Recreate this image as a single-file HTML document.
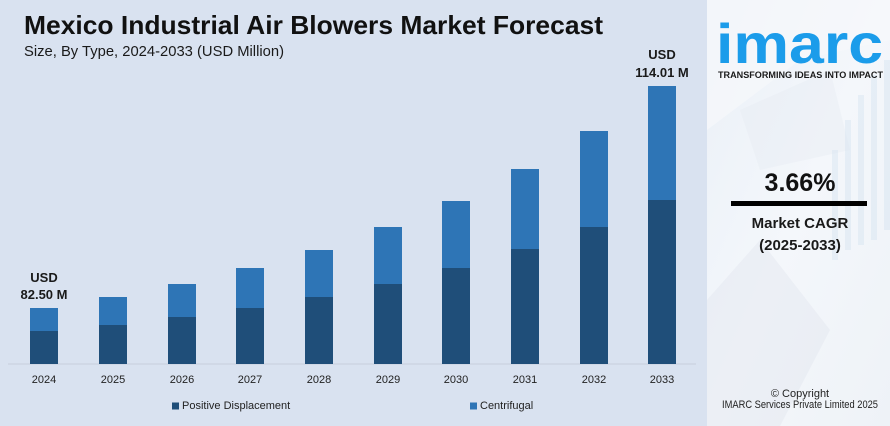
<!DOCTYPE html>
<html><head><meta charset="utf-8"><style>
html,body{margin:0;padding:0;background:#d9e2f0;}
svg{display:block;}
text{font-family:"Liberation Sans",Arial,sans-serif;}
</style></head><body>
<svg width="890" height="426" viewBox="0 0 890 426" xmlns="http://www.w3.org/2000/svg">
<defs>
<linearGradient id="pg" x1="0" y1="0" x2="1" y2="1">
<stop offset="0" stop-color="#eaf0f7"/>
<stop offset="0.5" stop-color="#f4f7fb"/>
<stop offset="1" stop-color="#eef2f7"/>
</linearGradient>
</defs>
<rect x="0" y="0" width="890" height="426" fill="#d9e2f0"/>
<!-- right panel -->
<rect x="707" y="0" width="183" height="426" fill="url(#pg)"/>
<polygon points="707,130 800,60 890,40 890,0 707,0" fill="#f6f8fb" opacity="0.7"/>
<polygon points="707,300 760,240 830,330 780,426 707,426" fill="#e3e8ef" opacity="0.5"/>
<polygon points="740,110 830,70 850,150 760,170" fill="#e6ebf2" opacity="0.4"/>
<g fill="#d6e4f1" opacity="0.45">
<rect x="832" y="150" width="6" height="110"/>
<rect x="845" y="120" width="6" height="130"/>
<rect x="858" y="95" width="6" height="150"/>
<rect x="871" y="75" width="6" height="165"/>
<rect x="884" y="60" width="6" height="170"/>
</g>
<!-- title -->
<text x="24" y="34" font-size="26" font-weight="bold" fill="#111" textLength="579" lengthAdjust="spacingAndGlyphs">Mexico Industrial Air Blowers Market Forecast</text>
<text x="24" y="56" font-size="15" fill="#1a1a1a" textLength="260" lengthAdjust="spacingAndGlyphs">Size, By Type, 2024-2033 (USD Million)</text>
<!-- axis -->
<line x1="8" y1="364" x2="696" y2="364" stroke="#c6cfdd" stroke-width="1"/>
<!-- bars -->
<g>
<rect x="30" y="308" width="28" height="23" fill="#2e75b6"/><rect x="30" y="331" width="28" height="33" fill="#1f4e79"/>
<rect x="99" y="297" width="28" height="28" fill="#2e75b6"/><rect x="99" y="325" width="28" height="39" fill="#1f4e79"/>
<rect x="168" y="284" width="28" height="33" fill="#2e75b6"/><rect x="168" y="317" width="28" height="47" fill="#1f4e79"/>
<rect x="236" y="268" width="28" height="40" fill="#2e75b6"/><rect x="236" y="308" width="28" height="56" fill="#1f4e79"/>
<rect x="305" y="250" width="28" height="47" fill="#2e75b6"/><rect x="305" y="297" width="28" height="67" fill="#1f4e79"/>
<rect x="374" y="227" width="28" height="57" fill="#2e75b6"/><rect x="374" y="284" width="28" height="80" fill="#1f4e79"/>
<rect x="442" y="201" width="28" height="67" fill="#2e75b6"/><rect x="442" y="268" width="28" height="96" fill="#1f4e79"/>
<rect x="511" y="169" width="28" height="80" fill="#2e75b6"/><rect x="511" y="249" width="28" height="115" fill="#1f4e79"/>
<rect x="580" y="131" width="28" height="96" fill="#2e75b6"/><rect x="580" y="227" width="28" height="137" fill="#1f4e79"/>
<rect x="648" y="86" width="28" height="114" fill="#2e75b6"/><rect x="648" y="200" width="28" height="164" fill="#1f4e79"/>
</g>
<!-- year labels -->
<g font-size="11" fill="#222" text-anchor="middle">
<text x="44" y="383">2024</text>
<text x="113" y="383">2025</text>
<text x="182" y="383">2026</text>
<text x="250" y="383">2027</text>
<text x="319" y="383">2028</text>
<text x="388" y="383">2029</text>
<text x="456" y="383">2030</text>
<text x="525" y="383">2031</text>
<text x="594" y="383">2032</text>
<text x="662" y="383">2033</text>
</g>
<!-- value labels -->
<g font-size="13" font-weight="bold" fill="#1a1a1a" text-anchor="middle">
<text x="44" y="282">USD</text>
<text x="44" y="299">82.50 M</text>
<text x="662" y="59">USD</text>
<text x="662" y="77">114.01 M</text>
</g>
<!-- legend -->
<rect x="172" y="402.5" width="7" height="7" fill="#1f4e79"/>
<text x="182" y="409" font-size="11" fill="#222">Positive Displacement</text>
<rect x="470" y="402.5" width="7" height="7" fill="#2e75b6"/>
<text x="480" y="409" font-size="11" fill="#222">Centrifugal</text>
<!-- logo -->
<text x="716" y="63" font-size="56" font-weight="bold" fill="#1b9cea" textLength="167" lengthAdjust="spacingAndGlyphs">imarc</text>
<text x="718" y="78" font-size="9.5" font-weight="bold" fill="#1a1a1a" textLength="165" lengthAdjust="spacingAndGlyphs">TRANSFORMING IDEAS INTO IMPACT</text>
<!-- CAGR -->
<text x="800" y="191" font-size="25" font-weight="bold" fill="#111" text-anchor="middle">3.66%</text>
<rect x="731" y="201" width="136" height="5" fill="#000"/>
<text x="800" y="228" font-size="15" font-weight="bold" fill="#1a1a1a" text-anchor="middle">Market CAGR</text>
<text x="800" y="250" font-size="15" font-weight="bold" fill="#1a1a1a" text-anchor="middle">(2025-2033)</text>
<!-- copyright -->
<text x="800" y="397" font-size="11" fill="#222" text-anchor="middle">© Copyright</text>
<text x="800" y="408" font-size="11" fill="#222" text-anchor="middle" textLength="156" lengthAdjust="spacingAndGlyphs">IMARC Services Private Limited 2025</text>
</svg>
</body></html>
